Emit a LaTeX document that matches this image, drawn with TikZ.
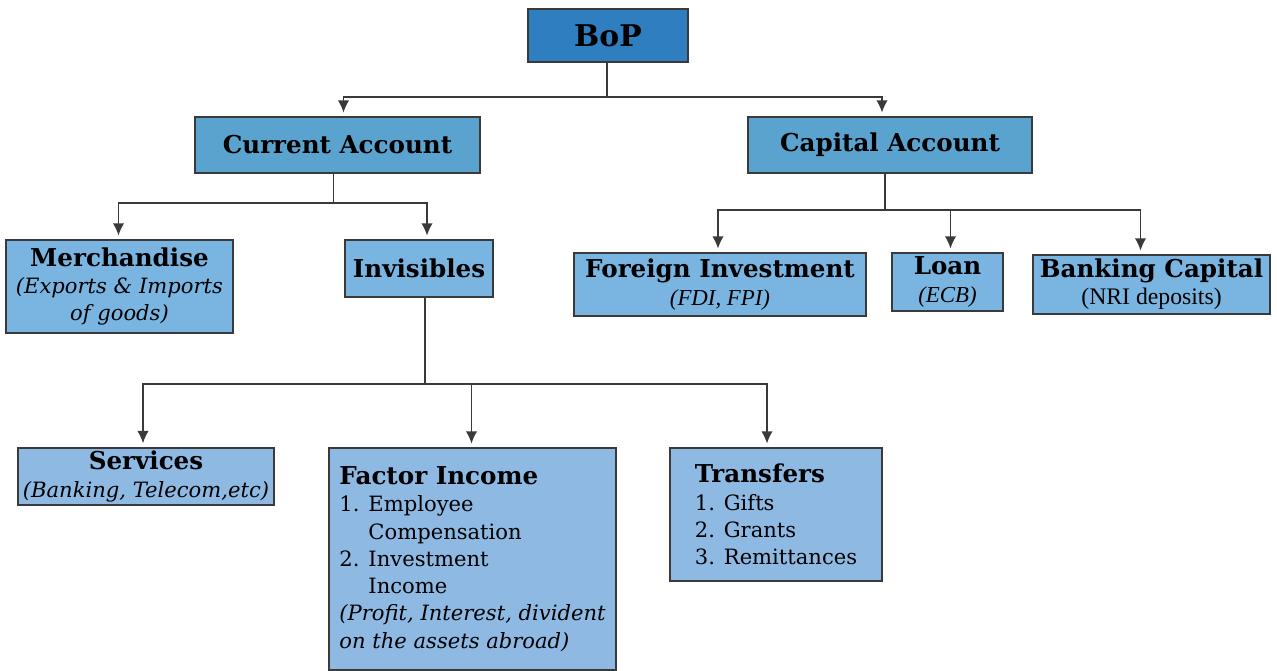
\documentclass[tikz,border=0pt]{standalone}
\usepackage{fontspec}
\setmainfont{DejaVu Serif}
\newfontfamily\timesfont{Liberation Serif}
\usetikzlibrary{arrows.meta}

\definecolor{bopblue}{HTML}{2E7EC0}
\definecolor{accblue}{HTML}{5BA3CF}
\definecolor{subblue}{HTML}{7AB5E2}
\definecolor{itemblue}{HTML}{8DB9E3}
\definecolor{edgegray}{HTML}{3A3A3A}

\newcommand{\headtxt}{\fontsize{14}{15.5}\selectfont\bfseries}
\newcommand{\subtxt}{\fontsize{12}{15.5}\selectfont\mdseries\itshape}

\tikzset{
  box/.style={draw=edgegray, line width=1pt, inner sep=2pt, align=center,
    font=\fontsize{12}{15.5}\selectfont},
  link/.style={draw=edgegray, line width=0.9pt}
}

\begin{document}
\begin{tikzpicture}[x=0.02cm, y=-0.02cm, >={Latex[length=7pt,width=6.5pt]}]
\useasboundingbox (0,0) rectangle (1277,671);

\node[box, fill=bopblue, minimum width=3.2cm, minimum height=1.06cm] (bop) at (608,35.5)
  {\fontsize{17}{20}\selectfont\bfseries BoP};

\node[box, fill=accblue, minimum width=5.7cm, minimum height=1.12cm] (cur) at (337.5,145) {\headtxt Current Account};
\node[box, fill=accblue, minimum width=5.68cm, minimum height=1.12cm] (cap) at (890,145) {\headtxt Capital Account};

% current account side
\node[box, fill=subblue, minimum width=4.54cm, minimum height=1.86cm] (mer) at (119.5,286.5)
  {\headtxt Merchandise\\ \subtxt (Exports \& Imports\\ \subtxt of goods)};
\node[box, fill=subblue, minimum width=2.96cm, minimum height=1.14cm] (inv) at (419,268.5) {\headtxt Invisibles};

\node[box, fill=itemblue, minimum width=5.12cm, minimum height=1.14cm] (serv) at (146,476.5)
  {\headtxt Services\\ \subtxt (Banking, Telecom,etc)};
\node[box, fill=itemblue, minimum width=5.74cm, minimum height=4.44cm, align=left] (fac) at (472.5,559)
  {{\headtxt Factor Income}\\
   1. Employee\\
   \phantom{1. }Compensation\\
   2. Investment\\
   \phantom{2. }Income\\
   {\itshape (Profit, Interest, divident}\\
   {\itshape on the assets abroad)}};
\node[box, fill=itemblue, minimum width=4.24cm, minimum height=2.66cm, align=left] (tra) at (776,514.5)
  {{\headtxt Transfers}\\
   1. Gifts\\
   2. Grants\\
   3. Remittances\hspace{4pt}};

% capital account side
\node[box, fill=subblue, minimum width=5.84cm, minimum height=1.26cm] (fi) at (720,284.5)
  {\headtxt Foreign Investment\\ {\timesfont\fontsize{13}{15}\selectfont\itshape (FDI, FPI)}};
\node[box, fill=subblue, minimum width=2.22cm, minimum height=1.16cm] (loan) at (947.5,282)
  {\headtxt Loan\\ {\timesfont\fontsize{13}{15}\selectfont\itshape (ECB)}};
\node[box, fill=subblue, minimum width=4.74cm, minimum height=1.18cm] (bank) at (1151.5,284.5)
  {\headtxt Banking Capital\\ {\timesfont\fontsize{13.5}{15}\selectfont (NRI deposits)}};

% branching points
\coordinate (j1) at ([xshift=-0.02cm]bop.south |- 0,97);
\coordinate (j2) at ([xshift=-0.08cm]cur.south |- 0,203);
\coordinate (j3) at ([xshift=0.12cm]inv.south |- 0,384);
\coordinate (j4) at ([xshift=-0.1cm]cap.south |- 0,210);

\foreach \p/\q in {bop/j1, cur/j2, inv/j3, cap/j4}
{
    \draw[link] (\p.south -| \q) -- (\q);
}

\foreach \a/\b/\s in {j1/cur/6, j1/cap/-8, j2/mer/-1, j2/inv/8, j3/serv/-3, j3/fac/-1, j3/tra/-9, j4/fi/-2, j4/loan/3, j4/bank/-11}
{
    \draw[link, ->, shorten >=2pt] (\a) -| ([xshift=\s*0.02cm]\b.north);
}
\end{tikzpicture}
\end{document}
